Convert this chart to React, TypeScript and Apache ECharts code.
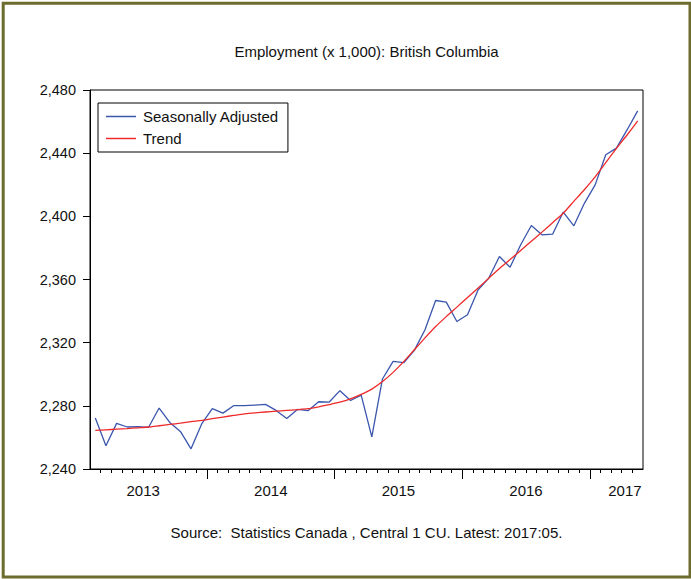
import React, { useEffect, useRef } from "react";
import * as echarts from "echarts";

// First observation: 2013:02 (monthly data through 2017:05)
const START_YEAR = 2013;
const START_MONTH = 2;

const seasonallyAdjusted = [
  2272.3, 2254.7, 2268.9, 2266.6, 2266.8, 2266.3, 2278.6, 2269.5, 2263.8, 2252.8,
  2268.5, 2278.2, 2275.4, 2280.1, 2280.1, 2280.5, 2280.9, 2277.1, 2272.0, 2277.7,
  2276.9, 2282.6, 2282.4, 2289.6, 2283.4, 2286.8, 2260.3, 2297.0, 2308.1, 2307.3,
  2315.1, 2328.2, 2346.7, 2345.7, 2333.4, 2337.7, 2353.5, 2360.9, 2374.6, 2367.8,
  2382.0, 2394.2, 2388.3, 2388.7, 2402.7, 2394.0, 2408.4, 2419.9, 2439.0, 2443.2,
  2454.7, 2466.8,
];

const trend = [
  2264.4, 2264.8, 2265.2, 2265.6, 2266.1, 2266.6, 2267.4, 2268.2, 2269.0, 2270.0,
  2270.8, 2271.9, 2272.9, 2273.9, 2274.9, 2275.6, 2276.1, 2276.6, 2277.1, 2277.6,
  2278.2, 2279.4, 2280.8, 2282.3, 2284.4, 2287.2, 2290.6, 2295.4, 2301.2, 2308.0,
  2315.5, 2323.0, 2330.2, 2336.5, 2342.5, 2348.6, 2354.6, 2360.8, 2367.0, 2372.6,
  2378.4, 2384.2, 2390.0, 2396.0, 2402.0, 2409.5, 2417.0, 2425.0, 2434.0, 2443.0,
  2451.5, 2460.4,
];

const yearLabels = ["2013", "2014", "2015", "2016", "2017"];
const yTickValues = [2240, 2280, 2320, 2360, 2400, 2440, 2480];

const TITLE = "Employment (x 1,000): British Columbia";
const SOURCE = "Source:  Statistics Canada , Central 1 CU. Latest: 2017:05.";
const SERIES_NAMES = ["Seasonally Adjusted", "Trend"];

// month position on axis: months since Jan 2013, centred in the month
const monthPos = (k: number) => START_MONTH - 1 + k + 0.5;

const FONT = "'Liberation Sans', Arial, Helvetica, sans-serif";
const LINE_ICON = "path://M0,0 H30 V1.5 H0 Z";

export default function App() {
  const ref = useRef<HTMLDivElement>(null);

  useEffect(() => {
    if (!ref.current) return;
    const chart = echarts.init(ref.current, undefined, { renderer: "svg" });

    const saData = seasonallyAdjusted.map((v, k) => [monthPos(k), v]);
    const trData = trend.map((v, k) => [monthPos(k), v]);
    const nMonths = START_MONTH - 1 + seasonallyAdjusted.length; // axis end boundary

    const minorTicks: number[] = [];
    for (let b = START_MONTH; b < nMonths; b++) if (b % 12 !== 0) minorTicks.push(b);
    const majorTicks: number[] = [];
    for (let b = 12; b < nMonths; b += 12) majorTicks.push(b);
    const labelPos = [6, 18, 30, 42, 51.3];

    const baseX = {
      type: "value",
      min: START_MONTH - 1,
      max: nMonths,
      position: "bottom",
      splitLine: { show: false },
    };

    chart.setOption({
      animation: false,
      backgroundColor: "#ffffff",
      textStyle: { fontFamily: FONT },
      grid: {
        left: 90,
        right: 48,
        top: 90,
        bottom: 110,
        show: true,
        borderColor: "#000",
        borderWidth: 1,
        backgroundColor: "transparent",
      },
      legend: {
        orient: "vertical",
        left: 98,
        top: 103,
        padding: [6, 9, 6, 8],
        itemWidth: 30,
        itemHeight: 16,
        itemGap: 7,
        borderColor: "#000",
        borderWidth: 1,
        borderRadius: 0,
        backgroundColor: "#fff",
        data: SERIES_NAMES.map((name) => ({ name, icon: LINE_ICON })),
        textStyle: {
          fontFamily: FONT,
          fontSize: 15,
          color: "#111",
          padding: [0, 0, 0, 2],
        },
      },
      xAxis: [
        {
          ...baseX,
          axisLine: { show: true, lineStyle: { color: "#000", width: 1 } },
          axisTick: {
            show: true,
            inside: false,
            length: 4,
            customValues: minorTicks,
            lineStyle: { color: "#000", width: 1 },
          },
          axisLabel: {
            show: true,
            customValues: labelPos,
            margin: 14,
            fontSize: 15,
            color: "#111",
            fontFamily: FONT,
            formatter: (v: number) => yearLabels[Math.floor(v / 12)] ?? "",
          },
        },
        {
          ...baseX,
          axisLine: { show: false },
          axisTick: {
            show: true,
            inside: false,
            length: 10,
            customValues: majorTicks,
            lineStyle: { color: "#000", width: 1 },
          },
          axisLabel: { show: false },
        },
      ],
      yAxis: {
        type: "value",
        min: yTickValues[0],
        max: yTickValues[yTickValues.length - 1],
        interval: 40,
        splitLine: { show: false },
        axisLine: { show: true, lineStyle: { color: "#000", width: 1 } },
        axisTick: { show: true, length: 7, lineStyle: { color: "#000" } },
        axisLabel: {
          margin: 14,
          fontSize: 14.5,
          color: "#111",
          fontFamily: FONT,
          formatter: (v: number) => v.toLocaleString("en-US"),
        },
      },
      series: [
        {
          name: SERIES_NAMES[0],
          type: "line",
          data: saData,
          symbol: "none",
          lineStyle: { color: "#3a56ad", width: 1.3 },
          itemStyle: { color: "#3a56ad" },
          z: 2,
        },
        {
          name: SERIES_NAMES[1],
          type: "line",
          data: trData,
          symbol: "none",
          smooth: 0.2,
          lineStyle: { color: "#ee2a2a", width: 1.3 },
          itemStyle: { color: "#ee2a2a" },
          z: 3,
        },
      ],
      graphic: [
        {
          type: "rect",
          silent: true,
          shape: { x: 3.2, y: 3.2, width: 686.8, height: 573.8 },
          style: { fill: "none", stroke: "#6c6c2e", lineWidth: 3 },
        },
        {
          type: "text",
          x: 366.5,
          y: 51,
          style: {
            text: TITLE,
            fontSize: 15,
            fontFamily: FONT,
            fill: "#111",
            textAlign: "center",
            textVerticalAlign: "middle",
          },
        },
        {
          type: "text",
          x: 366.5,
          y: 532,
          style: {
            text: SOURCE,
            fontSize: 15,
            fontFamily: FONT,
            fill: "#111",
            textAlign: "center",
            textVerticalAlign: "middle",
          },
        },
      ],
    });

    return () => chart.dispose();
  }, []);

  return (
    <div
      ref={ref}
      style={{
        position: "absolute",
        left: 0,
        top: 0,
        width: 691,
        height: 579,
        background: "#fff",
      }}
    />
  );
}
